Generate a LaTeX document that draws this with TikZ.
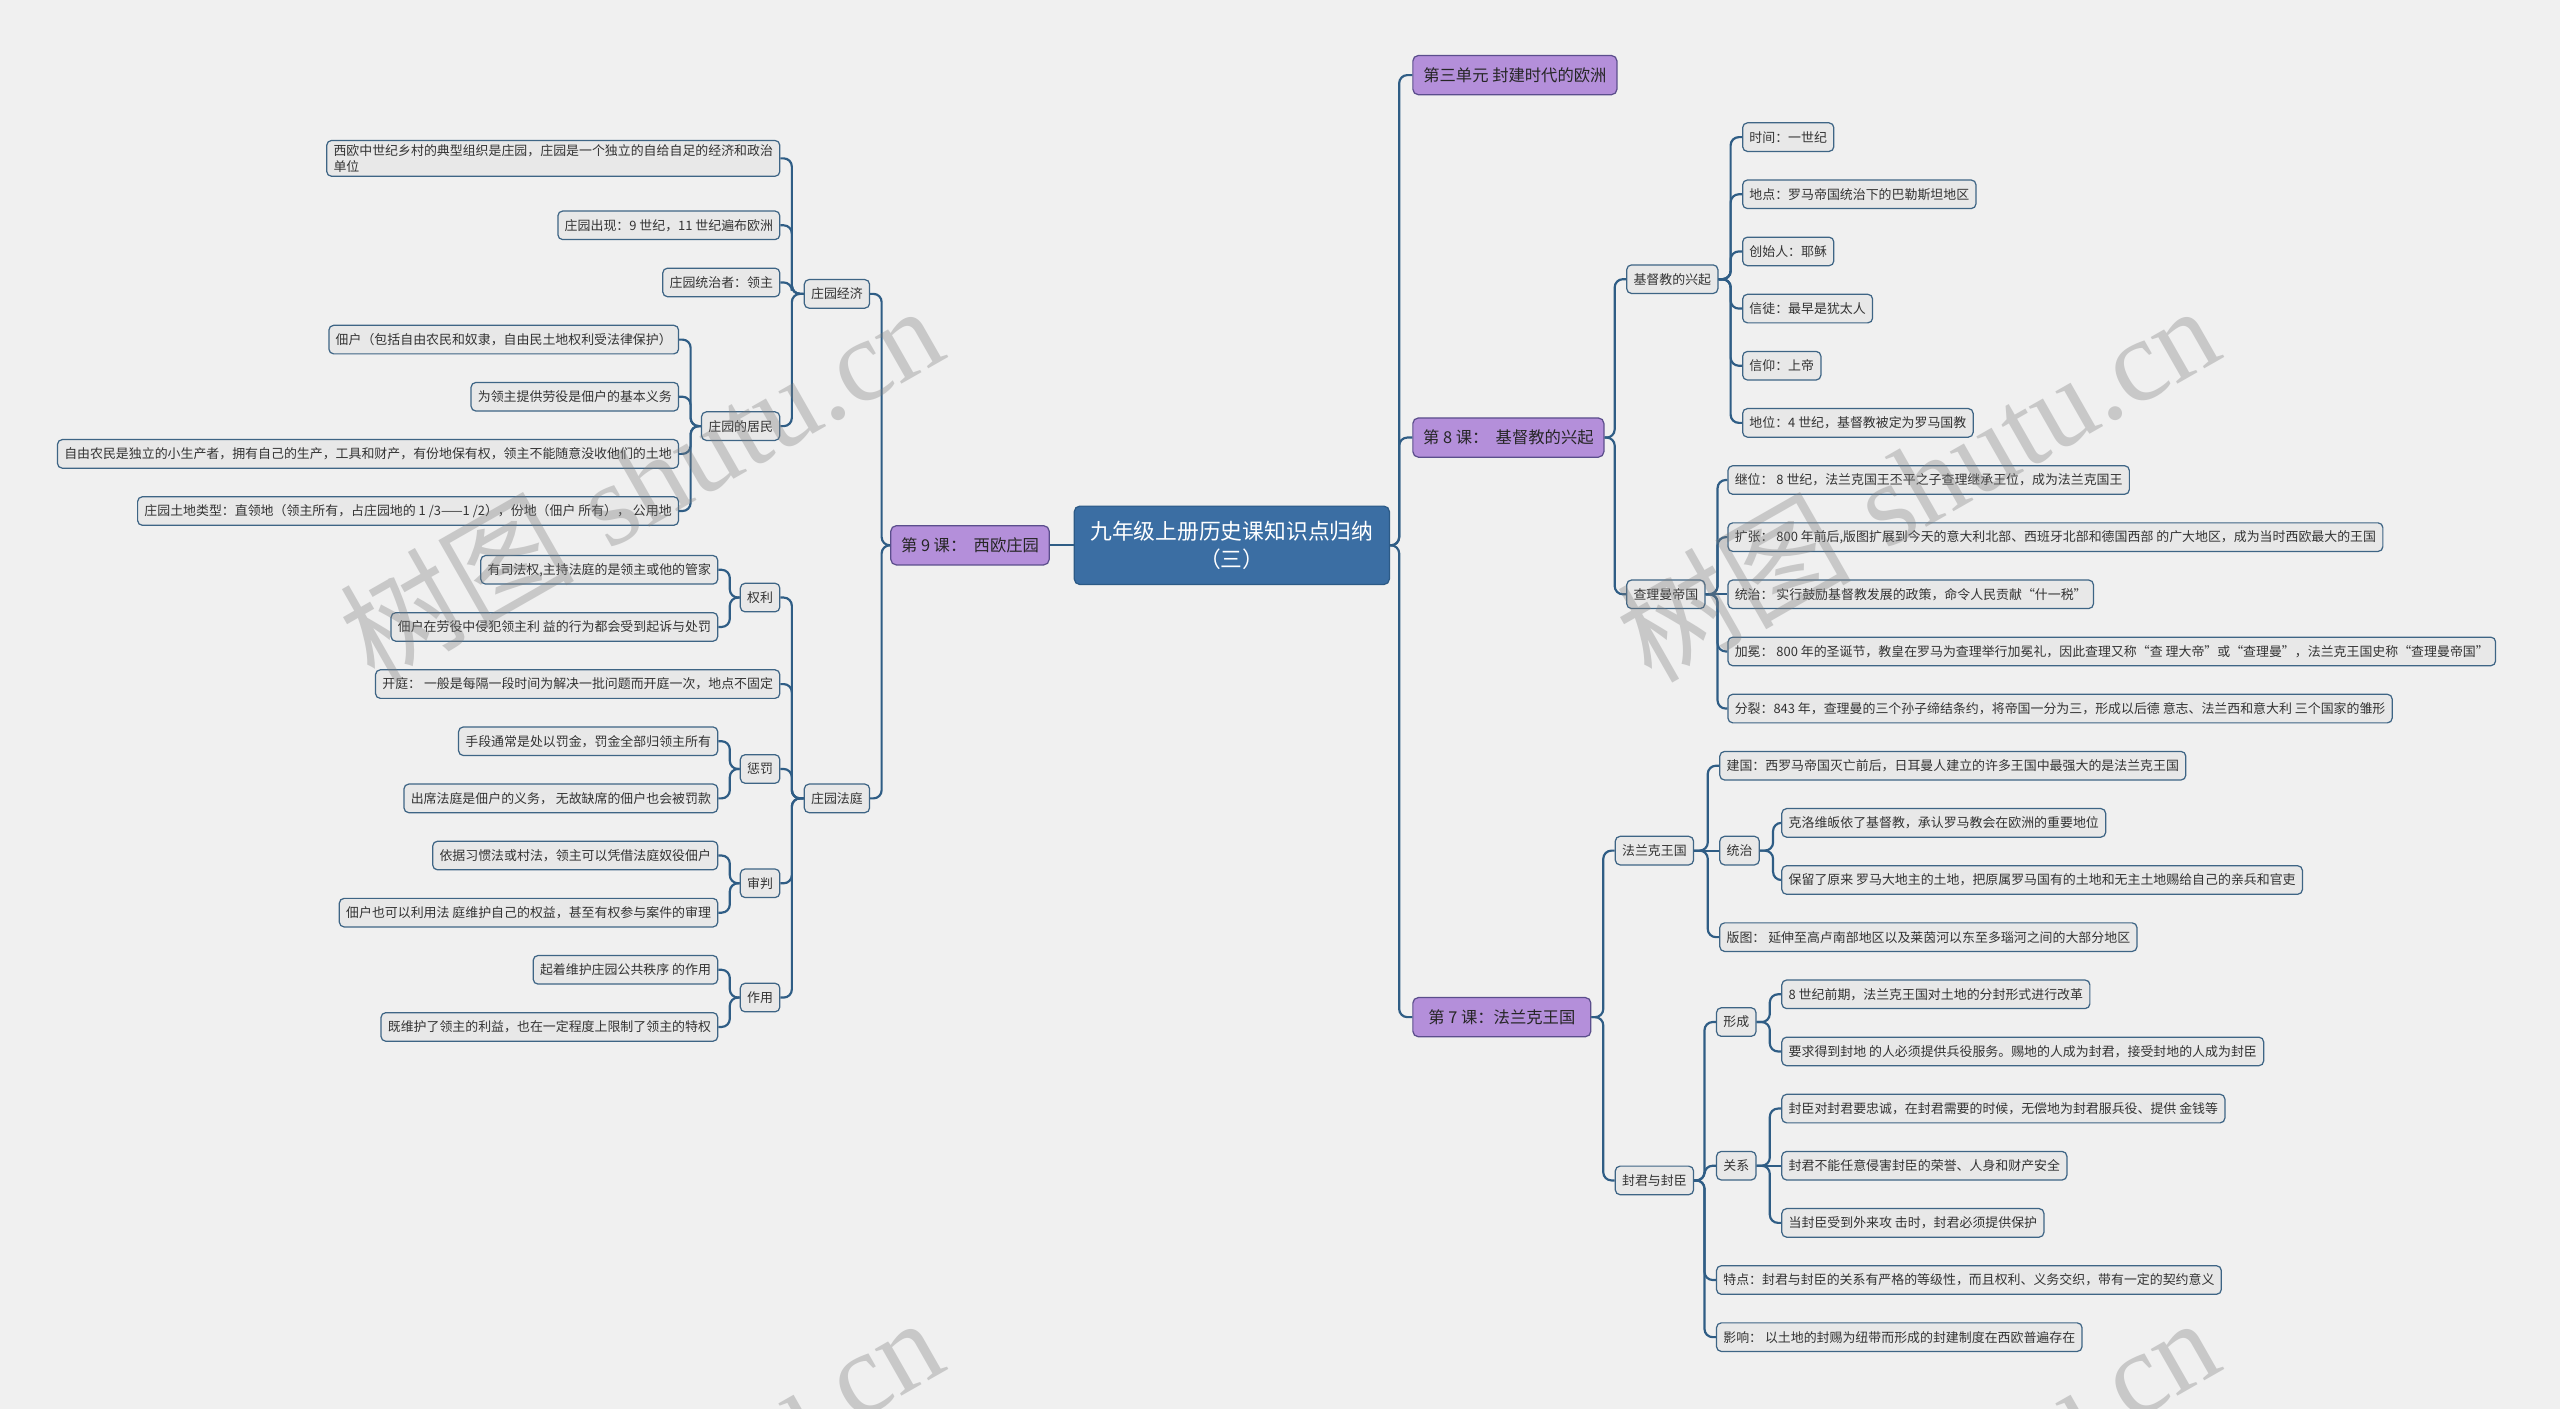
\documentclass[tikz,border=0pt]{standalone}
\usepackage{fontspec}
\setmainfont{Noto Sans CJK SC}
\newfontfamily\wmserif{Liberation Serif}
\definecolor{bg}{HTML}{F0F0F0}
\definecolor{leaffill}{HTML}{E8E8E8}
\definecolor{nodeb}{HTML}{3E6585}
\definecolor{linec}{HTML}{2F5D85}
\definecolor{purp}{HTML}{B48FDA}
\definecolor{purpb}{HTML}{5B4E8C}
\definecolor{rootc}{HTML}{3B6EA3}
\definecolor{rootb}{HTML}{2C5A86}
\definecolor{txt}{HTML}{333333}
\definecolor{wm}{HTML}{7E7E7E}
\tikzset{
  leaf/.style={draw=nodeb, fill=leaffill, rounded corners=3.5pt, line width=0.9pt,
    inner xsep=5pt, inner ysep=2pt, minimum height=21pt, text=txt,
    font=\fontsize{9.5}{11.5}\selectfont},
  lvlone/.style={draw=purpb, fill=purp, rounded corners=4pt, line width=0.9pt,
    inner xsep=6pt, minimum height=28.8pt, text=black!85,
    font=\fontsize{12}{14}\selectfont},
  rootn/.style={draw=rootb, fill=rootc, rounded corners=4pt, line width=0.9pt,
    minimum width=231.6pt, minimum height=57.6pt, text=white, align=center,
    font=\fontsize{16}{20}\selectfont},
  conn/.style={draw=linec, line width=1.6pt, rounded corners=6pt},
  wmark/.style={text=wm, text opacity=0.35, rotate=29.7, anchor=base east,
    font=\fontsize{86}{86}\selectfont, inner sep=0pt}
}
\begin{document}
\begin{tikzpicture}[x=1.2pt,y=-1.2pt]
\useasboundingbox (0,0) rectangle (1568,863);
\fill[bg] (0,0) rectangle (1568,863);

% root and level one
\node[rootn] (root) at (754.5,334) {九年级上册历史课知识点归纳\\（三）};
\node[lvlone, anchor=east, minimum width=116.4pt] (L9) at (643,334) {第 9 课：\ \ 西欧庄园};
\node[lvlone, anchor=west, minimum width=150pt] (u3) at (865,46) {第三单元 封建时代的欧洲};
\node[lvlone, anchor=west, minimum width=140.4pt] (L8) at (865,268) {第 8 课：\ \ 基督教的兴起};
\node[lvlone, anchor=west, minimum width=130.8pt] (L7) at (865,623) {第 7 课：法兰克王国};

% left: lesson 9
\node[leaf, anchor=east] (jj) at (533,180) {庄园经济};
\node[leaf, anchor=east] (ft) at (533,489) {庄园法庭};
\node[leaf, anchor=east, align=left, inner ysep=3pt] (jj1) at (478,97) {西欧中世纪乡村的典型组织是庄园，庄园是一个独立的自给自足的经济和政治\\单位};
\node[leaf, anchor=east] (jj2) at (478,138) {庄园出现：9 世纪，11 世纪遍布欧洲};
\node[leaf, anchor=east] (jj3) at (478,173) {庄园统治者：领主};
\node[leaf, anchor=east] (jm) at (478,261) {庄园的居民};
\node[leaf, anchor=east] (jm1) at (416,208) {佃户（包括自由农民和奴隶，自由民土地权利受法律保护）};
\node[leaf, anchor=east] (jm2) at (416,243) {为领主提供劳役是佃户的基本义务};
\node[leaf, anchor=east] (jm3) at (416,278) {自由农民是独立的小生产者，拥有自己的生产，工具和财产，有份地保有权，领主不能随意没收他们的土地};
\node[leaf, anchor=east] (jm4) at (416,313) {庄园土地类型：直领地（领主所有，占庄园地的 1 /3——1 /2），份地（佃户 所有）， 公用地};
\node[leaf, anchor=east] (ql) at (478,366) {权利};
\node[leaf, anchor=east] (ft2) at (478,419) {开庭： 一般是每隔一段时间为解决一批问题而开庭一次，地点不固定};
\node[leaf, anchor=east] (cf) at (478,471) {惩罚};
\node[leaf, anchor=east] (sp) at (478,541) {审判};
\node[leaf, anchor=east] (zy) at (478,611) {作用};
\node[leaf, anchor=east] (ql1) at (440,349) {有司法权,主持法庭的是领主或他的管家};
\node[leaf, anchor=east] (ql2) at (440,384) {佃户在劳役中侵犯领主利 益的行为都会受到起诉与处罚};
\node[leaf, anchor=east] (cf1) at (440,454) {手段通常是处以罚金，罚金全部归领主所有};
\node[leaf, anchor=east] (cf2) at (440,489) {出席法庭是佃户的义务， 无故缺席的佃户也会被罚款};
\node[leaf, anchor=east] (sp1) at (440,524) {依据习惯法或村法，领主可以凭借法庭奴役佃户};
\node[leaf, anchor=east] (sp2) at (440,559) {佃户也可以利用法 庭维护自己的权益，甚至有权参与案件的审理};
\node[leaf, anchor=east] (zy1) at (440,594) {起着维护庄园公共秩序 的作用};
\node[leaf, anchor=east] (zy2) at (440,629) {既维护了领主的利益，也在一定程度上限制了领主的特权};

% right: lesson 8
\node[leaf, anchor=west] (jd) at (996,171) {基督教的兴起};
\node[leaf, anchor=west] (cl) at (996,364) {查理曼帝国};
\node[leaf, anchor=west] (jd1) at (1067,84) {时间：一世纪};
\node[leaf, anchor=west] (jd2) at (1067,119) {地点：罗马帝国统治下的巴勒斯坦地区};
\node[leaf, anchor=west] (jd3) at (1067,154) {创始人：耶稣};
\node[leaf, anchor=west] (jd4) at (1067,189) {信徒：最早是犹太人};
\node[leaf, anchor=west] (jd5) at (1067,224) {信仰：上帝};
\node[leaf, anchor=west] (jd6) at (1067,259) {地位：4 世纪，基督教被定为罗马国教};
\node[leaf, anchor=west] (cl1) at (1058,294) {继位： 8 世纪，法兰克国王丕平之子查理继承王位，成为法兰克国王};
\node[leaf, anchor=west] (cl2) at (1058,329) {扩张： 800 年前后,版图扩展到今天的意大利北部、西班牙北部和德国西部 的广大地区，成为当时西欧最大的王国};
\node[leaf, anchor=west] (cl3) at (1058,364) {统治： 实行鼓励基督教发展的政策，命令人民贡献“什一税”};
\node[leaf, anchor=west] (cl4) at (1058,399) {加冕： 800 年的圣诞节，教皇在罗马为查理举行加冕礼，因此查理又称“查 理大帝”或“查理曼”，法兰克王国史称“查理曼帝国”};
\node[leaf, anchor=west] (cl5) at (1058,434) {分裂：843 年，查理曼的三个孙子缔结条约，将帝国一分为三，形成以后德 意志、法兰西和意大利 三个国家的雏形};

% right: lesson 7
\node[leaf, anchor=west] (fk) at (989,521) {法兰克王国};
\node[leaf, anchor=west] (fj) at (989,723) {封君与封臣};
\node[leaf, anchor=west] (fk1) at (1053,469) {建国：西罗马帝国灭亡前后，日耳曼人建立的许多王国中最强大的是法兰克王国};
\node[leaf, anchor=west] (tz) at (1053,521) {统治};
\node[leaf, anchor=west] (fk3) at (1053,574) {版图： 延伸至高卢南部地区以及莱茵河以东至多瑙河之间的大部分地区};
\node[leaf, anchor=west] (tz1) at (1091,504) {克洛维皈依了基督教，承认罗马教会在欧洲的重要地位};
\node[leaf, anchor=west] (tz2) at (1091,539) {保留了原来 罗马大地主的土地，把原属罗马国有的土地和无主土地赐给自己的亲兵和官吏};
\node[leaf, anchor=west] (xc) at (1051,626) {形成};
\node[leaf, anchor=west] (gx) at (1051,714) {关系};
\node[leaf, anchor=west] (fj3) at (1051,784) {特点：封君与封臣的关系有严格的等级性，而且权利、义务交织，带有一定的契约意义};
\node[leaf, anchor=west] (fj4) at (1051,819) {影响： 以土地的封赐为纽带而形成的封建制度在西欧普遍存在};
\node[leaf, anchor=west] (xc1) at (1091,609) {8 世纪前期，法兰克王国对土地的分封形式进行改革};
\node[leaf, anchor=west] (xc2) at (1091,644) {要求得到封地 的人必须提供兵役服务。赐地的人成为封君，接受封地的人成为封臣};
\node[leaf, anchor=west] (gx1) at (1091,679) {封臣对封君要忠诚，在封君需要的时候，无偿地为封君服兵役、提供 金钱等};
\node[leaf, anchor=west] (gx2) at (1091,714) {封君不能任意侵害封臣的荣誉、人身和财产安全};
\node[leaf, anchor=west] (gx3) at (1091,749) {当封臣受到外来攻 击时，封君必须提供保护};

% connectors
\draw[conn] (root.west) -- (L9.east);
\foreach \c in {u3,L8,L7}
  \draw[conn] (root.east) -| ([xshift=-9.6pt]\c.west) -- (\c.west);
\foreach \c in {jj,ft}
  \draw[conn] (L9.west) -| ([xshift=8.4pt]\c.east) -- (\c.east);
\foreach \c in {jj1,jj2,jj3,jm}
  \draw[conn] (jj.west) -| ([xshift=8.4pt]\c.east) -- (\c.east);
\foreach \c in {jm1,jm2,jm3,jm4}
  \draw[conn] (jm.west) -| ([xshift=8.4pt]\c.east) -- (\c.east);
\foreach \c in {ql,ft2,cf,sp,zy}
  \draw[conn] (ft.west) -| ([xshift=8.4pt]\c.east) -- (\c.east);
\foreach \c in {ql1,ql2}
  \draw[conn] (ql.west) -| ([xshift=8.4pt]\c.east) -- (\c.east);
\foreach \c in {cf1,cf2}
  \draw[conn] (cf.west) -| ([xshift=8.4pt]\c.east) -- (\c.east);
\foreach \c in {sp1,sp2}
  \draw[conn] (sp.west) -| ([xshift=8.4pt]\c.east) -- (\c.east);
\foreach \c in {zy1,zy2}
  \draw[conn] (zy.west) -| ([xshift=8.4pt]\c.east) -- (\c.east);
\foreach \c in {jd,cl}
  \draw[conn] (L8.east) -| ([xshift=-8.4pt]\c.west) -- (\c.west);
\foreach \c in {jd1,jd2,jd3,jd4,jd5,jd6}
  \draw[conn] (jd.east) -| ([xshift=-8.4pt]\c.west) -- (\c.west);
\foreach \c in {cl1,cl2,cl4,cl5}
  \draw[conn] (cl.east) -| ([xshift=-7.2pt]\c.west) -- (\c.west);
\draw[conn] (cl.east) -- (cl3.west);
\foreach \c in {fk,fj}
  \draw[conn] (L7.east) -| ([xshift=-8.4pt]\c.west) -- (\c.west);
\foreach \c in {fk1,fk3}
  \draw[conn] (fk.east) -| ([xshift=-8.4pt]\c.west) -- (\c.west);
\draw[conn] (fk.east) -- (tz.west);
\foreach \c in {tz1,tz2}
  \draw[conn] (tz.east) -| ([xshift=-6pt]\c.west) -- (\c.west);
\foreach \c in {xc,gx,fj3,fj4}
  \draw[conn] (fj.east) -| ([xshift=-8.4pt]\c.west) -- (\c.west);
\foreach \c in {xc1,xc2}
  \draw[conn] (xc.east) -| ([xshift=-8.4pt]\c.west) -- (\c.west);
\foreach \c in {gx1,gx3}
  \draw[conn] (gx.east) -| ([xshift=-8.4pt]\c.west) -- (\c.west);
\draw[conn] (gx.east) -- (gx2.west);

% watermark (drawn over, semi-transparent)
\begin{scope}
\clip (0,0) rectangle (1568,863);
\node[wmark] (wma) at (582,218) {树图\hspace{0.3em}{\wmserif shutu.cn}};
\node[wmark] (wmb) at (1364,218) {树图\hspace{0.3em}{\wmserif shutu.cn}};
\node[wmark] (wmc) at (582,838) {树图\hspace{0.3em}{\wmserif shutu.cn}};
\node[wmark] (wmd) at (1364,838) {树图\hspace{0.3em}{\wmserif shutu.cn}};
\end{scope}
\end{tikzpicture}
\end{document}
